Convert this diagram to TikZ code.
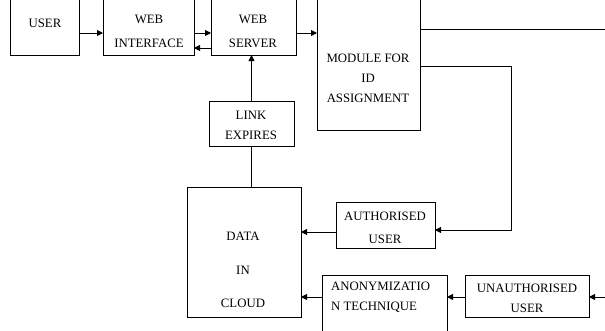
\documentclass[tikz,border=0pt]{standalone}
\usepackage{fontspec}
\setmainfont{Liberation Serif}
\usetikzlibrary{arrows.meta}
\tikzset{
  box/.style={draw, line width=0.9pt, rectangle, inner sep=0pt, outer sep=0pt},
  lbl/.style={align=center, inner sep=0pt, font=\fontsize{12.8}{20}\selectfont},
  conn/.style={line width=0.9pt},
  arr/.style={line width=0.9pt, -{Triangle[length=6pt,width=6pt]}}
}
\begin{document}
\begin{tikzpicture}[x=1pt,y=-1pt]
\useasboundingbox (0,0) rectangle (605,330);
\clip (0,0) rectangle (605,330);
\fill[white] (0,0) rectangle (605,330);
% boxes
\node[box, minimum width=69pt, minimum height=65pt] (user) at (44.5,22.5) {};
\node[box, minimum width=91pt, minimum height=65pt] (wi) at (148.5,22.5) {};
\node[box, minimum width=85pt, minimum height=65pt] (ws) at (253.5,22.5) {};
\node[box, minimum width=103pt, minimum height=140pt] (mod) at (368.5,60) {};
\node[box, minimum width=85pt, minimum height=45pt] (link) at (251.5,123.5) {};
\node[box, minimum width=114pt, minimum height=130pt] (data) at (244,252) {};
\node[box, minimum width=99pt, minimum height=46pt] (auth) at (385.5,225) {};
\node[box, minimum width=125pt, minimum height=65pt] (anon) at (384.5,307.5) {};
\node[box, minimum width=124pt, minimum height=42pt] (unauth) at (527,296) {};
% texts
\node[lbl] (tuser) at (45,23) {USER};
\node[lbl, font=\fontsize{12.8}{24}\selectfont] (twi) at (149,31) {WEB\\INTERFACE};
\node[lbl, font=\fontsize{12.8}{24}\selectfont] (tws) at (253,31) {WEB\\SERVER};
\node[lbl] (tmod) at (368,78) {MODULE FOR\\ID\\ASSIGNMENT};
\node[lbl] (tlink) at (251,125) {LINK\\EXPIRES};
\node[lbl, font=\fontsize{12.8}{33.5}\selectfont] (tdata) at (243,270) {DATA\\IN\\CLOUD};
\node[lbl, font=\fontsize{12.8}{23}\selectfont] (tauth) at (385,228) {AUTHORISED\\USER};
\node[lbl, align=left, anchor=west] (tanon) at (331,297) {ANONYMIZATIO\\N TECHNIQUE};
\node[lbl] (tunauth) at (527,298) {UNAUTHORISED\\USER};
% helper coordinates
\coordinate (r1) at (615,29);
\coordinate (bend1) at (511,66);
\coordinate (r2) at (615,297);
% connectors
\draw[arr] (user.east |- 0,33) -- (wi.west |- 0,33);
\draw[arr] (wi.east |- 0,33) -- (ws.west |- 0,33);
\draw[arr] (ws.west |- 0,48) -- (wi.east |- 0,48);
\draw[arr] (ws.east |- 0,33) -- (mod.west |- 0,33);
\draw[arr] (link.north) -- (link.north |- ws.south);
\draw[conn] (link.south) -- (link.south |- data.north);
\draw[conn] (mod.east |- r1) -- (r1);
\draw[arr] (mod.east |- bend1) -- (bend1) -- (bend1 |- 0,230) -- (auth.east |- 0,230);
\draw[arr] (auth.west |- 0,232) -- (data.east |- 0,232);
\draw[arr] (anon.west |- r2) -- (data.east |- r2);
\draw[arr] (unauth.west |- r2) -- (anon.east |- r2);
\draw[arr] (r2) -- (unauth.east |- r2);
\end{tikzpicture}
\end{document}
